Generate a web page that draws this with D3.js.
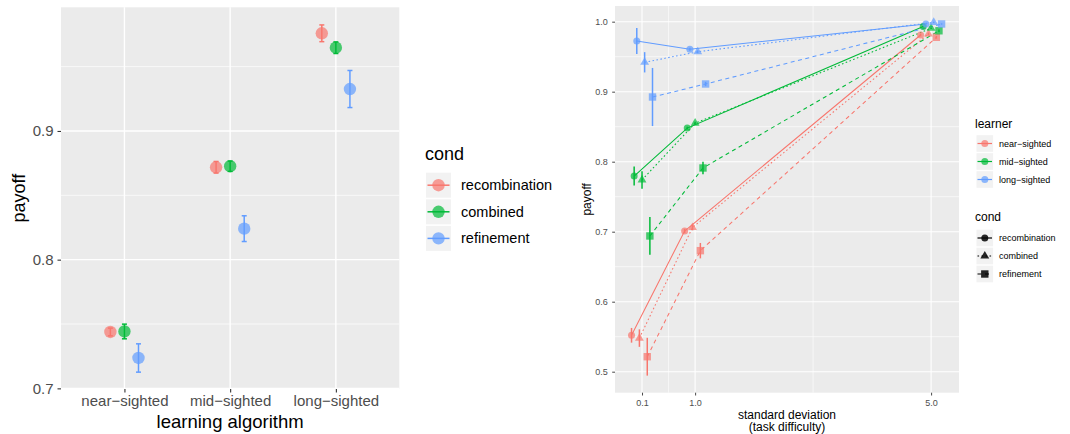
<!DOCTYPE html>
<html><head><meta charset="utf-8">
<script src="https://cdn.jsdelivr.net/npm/d3@7"></script>
<style>body{margin:0;background:#fff}svg{display:block;font-family:"Liberation Sans",Arial,Helvetica,sans-serif}</style>
</head><body><script>
// ---------------- data ----------------
const algorithms = ["near−sighted", "mid−sighted", "long−sighted"];
const conds = ["recombination", "combined", "refinement"];
const learners = ["near−sighted", "mid−sighted", "long−sighted"];
const palette = ["#F8766D", "#00BA38", "#619CFF"];

// left panel: payoff by learning algorithm, per cond
const leftRecombination = [0.7438, 0.8718, 0.9759];
const leftCombined      = [0.7442, 0.8726, 0.9647];
const leftRefinement    = [0.7236, 0.8241, 0.9326];
const leftRecombinationErr = [0.003, 0.0045, 0.0065];
const leftCombinedErr      = [0.0057, 0.004, 0.0045];
const leftRefinementErr    = [0.011, 0.010, 0.0144];
const leftYTicks = [0.7, 0.8, 0.9];
const leftYMinor = [0.75, 0.85, 0.95];

// right panel: payoff vs standard deviation
const sdValues = [0.1, 1.0, 5.0];
const sdTicks = [0.1, 1.0, 5.0];
const sdMinor = [0.55, 3.0];
const rightYTicks = [0.5, 0.6, 0.7, 0.8, 0.9, 1.0];
const rightYMinor = [0.55, 0.65, 0.75, 0.85, 0.95];

const nearRecombination = [0.552, 0.701, 0.981];
const nearCombined      = [0.548, 0.706, 0.9824];
const nearRefinement    = [0.5214, 0.6729, 0.9777];
const midRecombination  = [0.7795, 0.848, 0.993];
const midCombined       = [0.774, 0.855, 0.9906];
const midRefinement     = [0.6939, 0.791, 0.987];
const longRecombination = [0.9724, 0.9606, 0.9967];
const longCombined      = [0.942, 0.957, 0.999];
const longRefinement    = [0.8924, 0.911, 0.9967];

const nearRecombinationErr = [0.0105, 0.003, 0.002];
const nearCombinedErr      = [0.0125, 0.004, 0.002];
const nearRefinementErr    = [0.027, 0.011, 0.002];
const midRecombinationErr  = [0.0135, 0.002, 0.001];
const midCombinedErr       = [0.0125, 0.002, 0.001];
const midRefinementErr     = [0.027, 0.009, 0.002];
const longRecombinationErr = [0.0185, 0.002, 0.001];
const longCombinedErr      = [0.0145, 0.002, 0.001];
const longRefinementErr    = [0.0415, 0.003, 0.001];

// --------------- assemble ---------------
const leftMeans = [leftRecombination, leftCombined, leftRefinement];
const leftErrs = [leftRecombinationErr, leftCombinedErr, leftRefinementErr];
const rightMeans = [
  [nearRecombination, nearCombined, nearRefinement],
  [midRecombination, midCombined, midRefinement],
  [longRecombination, longCombined, longRefinement]
];
const rightErrs = [
  [nearRecombinationErr, nearCombinedErr, nearRefinementErr],
  [midRecombinationErr, midCombinedErr, midRefinementErr],
  [longRecombinationErr, longCombinedErr, longRefinementErr]
];

const svg = d3.select("body").append("svg").attr("width", 1070).attr("height", 434);
const PANEL = "#EBEBEB", KEYBG = "#F2F2F2", TXT = "#4D4D4D", TICK = "#333333";

// =============== LEFT PANEL ===============
const L = {x0: 61, x1: 399.3, y0: 7.3, y1: 389};
const xL = d3.scalePoint().domain(algorithms).range([L.x0, L.x1]).padding(0.6);
const yL = d3.scaleLinear().domain([0.6995, 0.9961]).range([L.y1, L.y0]);
const gL = svg.append("g");
gL.append("rect").attr("x", L.x0).attr("y", L.y0).attr("width", L.x1 - L.x0).attr("height", L.y1 - L.y0).attr("fill", PANEL);
gL.selectAll(".ymin").data(leftYMinor).join("line")
  .attr("x1", L.x0).attr("x2", L.x1).attr("y1", d => yL(d)).attr("y2", d => yL(d))
  .attr("stroke", "#fff").attr("stroke-width", 0.7);
gL.selectAll(".ymaj").data(leftYTicks).join("line")
  .attr("x1", L.x0).attr("x2", L.x1).attr("y1", d => yL(d)).attr("y2", d => yL(d))
  .attr("stroke", "#fff").attr("stroke-width", 1.4);
gL.selectAll(".xmaj").data(algorithms).join("line")
  .attr("x1", d => xL(d)).attr("x2", d => xL(d)).attr("y1", L.y0).attr("y2", L.y1)
  .attr("stroke", "#fff").attr("stroke-width", 1.4);

const axL = gL.append("g").attr("transform", `translate(${L.x0},0)`)
  .call(d3.axisLeft(yL).tickValues(leftYTicks).tickFormat(d3.format(".1f")).tickSize(3.5).tickPadding(4));
const axB = gL.append("g").attr("transform", `translate(0,${L.y1})`)
  .call(d3.axisBottom(xL).tickSize(3.5).tickPadding(3));
[axL, axB].forEach(a => {
  a.select(".domain").remove();
  a.selectAll(".tick line").attr("stroke", TICK).attr("stroke-width", 1.1);
  a.selectAll(".tick text").attr("fill", TXT).style("font-size", "15px");
});
gL.append("text").attr("x", xL(algorithms[1])).attr("y", 428).attr("text-anchor", "middle")
  .style("font-size", "18.5px").attr("fill", "#000").text("learning algorithm");
gL.append("text").attr("transform", `translate(25,${(L.y0 + L.y1) / 2}) rotate(-90)`).attr("text-anchor", "middle")
  .style("font-size", "18px").attr("fill", "#000").text("payoff");

const dodgeL = xL.step() * 0.133;
conds.forEach((c, ci) => {
  algorithms.forEach((a, j) => {
    const cx = xL(a) + (ci - 1) * dodgeL;
    const m = leftMeans[ci][j], e = leftErrs[ci][j];
    const col = palette[ci];
    gL.append("line").attr("x1", cx).attr("x2", cx).attr("y1", yL(m - e)).attr("y2", yL(m + e))
      .attr("stroke", col).attr("stroke-width", 1.5);
    [m - e, m + e].forEach(v => gL.append("line").attr("x1", cx - 2.5).attr("x2", cx + 2.5)
      .attr("y1", yL(v)).attr("y2", yL(v)).attr("stroke", col).attr("stroke-width", 1.5));
    gL.append("circle").attr("cx", cx).attr("cy", yL(m)).attr("r", 6.2).attr("fill", col).attr("fill-opacity", 0.7);
  });
});

// left legend
const lgL = svg.append("g");
lgL.append("text").attr("x", 425).attr("y", 160).style("font-size", "18px").attr("fill", "#000").text("cond");
conds.forEach((c, i) => {
  const y = 172.7 + i * 26.6;
  lgL.append("rect").attr("x", 426).attr("y", y).attr("width", 25).attr("height", 25).attr("fill", KEYBG);
  lgL.append("line").attr("x1", 427.5).attr("x2", 449.5).attr("y1", y + 12.5).attr("y2", y + 12.5)
    .attr("stroke", palette[i]).attr("stroke-width", 1.5);
  lgL.append("circle").attr("cx", 438.5).attr("cy", y + 12.5).attr("r", 6.2).attr("fill", palette[i]).attr("fill-opacity", 0.7);
  lgL.append("text").attr("x", 461).attr("y", y + 12.5).attr("dy", "0.35em").style("font-size", "14.5px")
    .attr("fill", "#000").text(c);
});

// =============== RIGHT PANEL ===============
const R = {x0: 615, x1: 959, y0: 6, y1: 392.7};
const xR = d3.scaleLinear().domain([-0.358, 5.473]).range([R.x0, R.x1]);
const yR = d3.scaleLinear().domain([0.47, 1.0224]).range([R.y1, R.y0]);
const gR = svg.append("g");
gR.append("rect").attr("x", R.x0).attr("y", R.y0).attr("width", R.x1 - R.x0).attr("height", R.y1 - R.y0).attr("fill", PANEL);
gR.selectAll(".ymin").data(rightYMinor).join("line")
  .attr("x1", R.x0).attr("x2", R.x1).attr("y1", d => yR(d)).attr("y2", d => yR(d))
  .attr("stroke", "#fff").attr("stroke-width", 0.6);
gR.selectAll(".xmin").data(sdMinor).join("line")
  .attr("x1", d => xR(d)).attr("x2", d => xR(d)).attr("y1", R.y0).attr("y2", R.y1)
  .attr("stroke", "#fff").attr("stroke-width", 0.6);
gR.selectAll(".ymaj").data(rightYTicks).join("line")
  .attr("x1", R.x0).attr("x2", R.x1).attr("y1", d => yR(d)).attr("y2", d => yR(d))
  .attr("stroke", "#fff").attr("stroke-width", 1.1);
gR.selectAll(".xmaj").data(sdTicks).join("line")
  .attr("x1", d => xR(d)).attr("x2", d => xR(d)).attr("y1", R.y0).attr("y2", R.y1)
  .attr("stroke", "#fff").attr("stroke-width", 1.1);

const axRL = gR.append("g").attr("transform", `translate(${R.x0},0)`)
  .call(d3.axisLeft(yR).tickValues(rightYTicks).tickFormat(d3.format(".1f")).tickSize(2.8).tickPadding(4.5));
const axRB = gR.append("g").attr("transform", `translate(0,${R.y1})`)
  .call(d3.axisBottom(xR).tickValues(sdTicks).tickFormat(d3.format(".1f")).tickSize(2.8).tickPadding(4.5));
[axRL, axRB].forEach(a => {
  a.select(".domain").remove();
  a.selectAll(".tick line").attr("stroke", TICK).attr("stroke-width", 0.9);
  a.selectAll(".tick text").attr("fill", TXT).style("font-size", "9px");
});
const xt = gR.append("text").attr("x", (R.x0 + R.x1) / 2).attr("y", 419).attr("text-anchor", "middle")
  .style("font-size", "12px").attr("fill", "#000");
xt.append("tspan").attr("x", (R.x0 + R.x1) / 2).text("standard deviation");
xt.append("tspan").attr("x", (R.x0 + R.x1) / 2).attr("dy", "1.04em").text("(task difficulty)");
gR.append("text").attr("transform", `translate(591,${(R.y0 + R.y1) / 2}) rotate(-90)`).attr("text-anchor", "middle")
  .style("font-size", "12px").attr("fill", "#000").text("payoff");

const dashes = [null, "1.6,2.4", "4,3.5"];
const dodgeR = 0.4 / 9;
function drawShape(g, ci, cx, cy, fill, op) {
  if (ci === 0) {
    g.append("circle").attr("cx", cx).attr("cy", cy).attr("r", 3.5).attr("fill", fill).attr("fill-opacity", op);
  } else if (ci === 1) {
    g.append("path").attr("d", d3.symbol(d3.symbolTriangle, 34)()).attr("transform", `translate(${cx},${cy})`)
      .attr("fill", fill).attr("fill-opacity", op);
  } else {
    g.append("rect").attr("x", cx - 3.7).attr("y", cy - 3.7).attr("width", 7.4).attr("height", 7.4)
      .attr("fill", fill).attr("fill-opacity", op);
  }
}
// lines
learners.forEach((l, li) => {
  conds.forEach((c, ci) => {
    const off = (ci * 3 + li - 4) * dodgeR;
    const pts = sdValues.map((x, k) => [xR(x + off), yR(rightMeans[li][ci][k])]);
    gR.append("path").attr("d", d3.line()(pts)).attr("fill", "none").attr("stroke", palette[li])
      .attr("stroke-width", 1.05).attr("stroke-dasharray", dashes[ci]);
  });
});
// error bars + points
learners.forEach((l, li) => {
  conds.forEach((c, ci) => {
    const off = (ci * 3 + li - 4) * dodgeR;
    sdValues.forEach((x, k) => {
      const m = rightMeans[li][ci][k], e = rightErrs[li][ci][k];
      const cx = xR(x + off);
      gR.append("line").attr("x1", cx).attr("x2", cx).attr("y1", yR(m - e)).attr("y2", yR(m + e))
        .attr("stroke", palette[li]).attr("stroke-width", 1.5);
      drawShape(gR, ci, cx, yR(m), palette[li], 0.7);
    });
  });
});

// right legends
const lgR = svg.append("g");
lgR.append("text").attr("x", 975).attr("y", 127.5).style("font-size", "12px").attr("fill", "#000").text("learner");
learners.forEach((l, i) => {
  const cy = 143.5 + i * 18;
  lgR.append("rect").attr("x", 976.5).attr("y", cy - 8.3).attr("width", 16.6).attr("height", 16.6).attr("fill", KEYBG);
  lgR.append("line").attr("x1", 977.5).attr("x2", 992).attr("y1", cy).attr("y2", cy)
    .attr("stroke", palette[i]).attr("stroke-width", 1.2);
  lgR.append("circle").attr("cx", 984.8).attr("cy", cy).attr("r", 3.5).attr("fill", palette[i]).attr("fill-opacity", 0.7);
  lgR.append("text").attr("x", 999).attr("y", cy).attr("dy", "0.35em").style("font-size", "9px").attr("fill", "#000").text(l);
});
lgR.append("text").attr("x", 975).attr("y", 221).style("font-size", "12px").attr("fill", "#000").text("cond");
conds.forEach((c, i) => {
  const cy = 238 + i * 18;
  lgR.append("rect").attr("x", 976.5).attr("y", cy - 8.3).attr("width", 16.6).attr("height", 16.6).attr("fill", KEYBG);
  lgR.append("line").attr("x1", 977.5).attr("x2", 992).attr("y1", cy).attr("y2", cy)
    .attr("stroke", "#000").attr("stroke-width", 1.2).attr("stroke-dasharray", dashes[i]);
  drawShape(lgR, i, 984.8, cy, "#000", 0.85);
  lgR.append("text").attr("x", 999).attr("y", cy).attr("dy", "0.35em").style("font-size", "9px").attr("fill", "#000").text(c);
});
</script></body></html>
